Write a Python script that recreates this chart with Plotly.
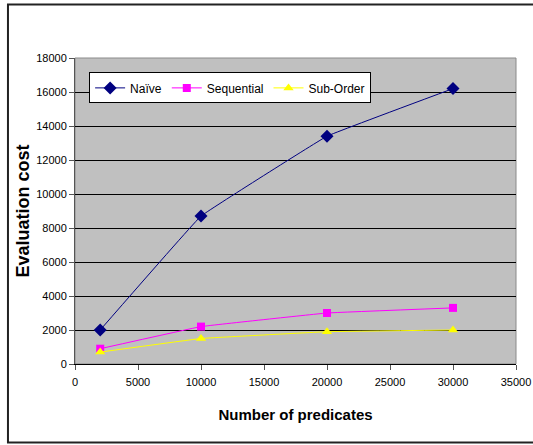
import plotly.graph_objects as go

# Evaluation cost versus number of predicates for three strategies
predicates = [2000, 10000, 20000, 30000]
naive_cost = [2000, 8700, 13400, 16200]
sequential_cost = [900, 2200, 3000, 3300]
suborder_cost = [700, 1500, 1900, 2000]

x_ticks = list(range(0, 35001, 5000))
y_ticks = list(range(0, 18001, 2000))

FONT = "Liberation Sans, Arial, sans-serif"
SMOOTH = 0.15

fig = go.Figure()
fig.add_trace(go.Scatter(
    x=predicates, y=naive_cost, name="Naïve", mode="lines+markers",
    line=dict(color="#000080", width=1, shape="spline", smoothing=SMOOTH),
    marker=dict(symbol="diamond", size=10, color="#000080"),
))
fig.add_trace(go.Scatter(
    x=predicates, y=sequential_cost, name="Sequential", mode="lines+markers",
    line=dict(color="#FF00FF", width=1, shape="spline", smoothing=SMOOTH),
    marker=dict(symbol="square", size=8, color="#FF00FF"),
))
fig.add_trace(go.Scatter(
    x=predicates, y=suborder_cost, name="Sub-Order", mode="lines+markers",
    line=dict(color="#FFFF00", width=1, shape="spline", smoothing=SMOOTH),
    marker=dict(symbol="triangle-up", size=9, color="#FFFF00"),
))

# outer chart frame
fig.add_shape(type="rect", xref="paper", yref="paper",
              x0=-0.152, x1=1.06, y0=-0.2565, y1=1.175,
              line=dict(color="#222222", width=2), layer="above")
# plot area border (top/right)
fig.add_shape(type="rect", xref="paper", yref="paper",
              x0=0, x1=1, y0=0, y1=1,
              line=dict(color="#8a8a8a", width=1), layer="below")

fig.update_layout(
    width=533, height=445,
    margin=dict(l=75, r=17, t=58, b=81, autoexpand=False),
    paper_bgcolor="white",
    plot_bgcolor="#C0C0C0",
    font=dict(family=FONT, size=11, color="black"),
    showlegend=True,
    legend=dict(
        orientation="h", x=0.032, y=0.953, xanchor="left", yanchor="top",
        bgcolor="white", bordercolor="black", borderwidth=1,
        font=dict(family=FONT, size=12, color="black"),
        itemwidth=30, tracegroupgap=0,
    ),
    xaxis=dict(
        range=[0, 35000], tickvals=x_ticks, ticktext=[str(v) for v in x_ticks],
        showgrid=False, zeroline=False, automargin=False,
        showline=True, linecolor="black", linewidth=1,
        ticks="outside", ticklen=5, tickcolor="#555555", ticklabelstandoff=3,
        title=dict(text="<b>Number of predicates</b>",
                   font=dict(family=FONT, size=15, color="black"), standoff=22),
    ),
    yaxis=dict(
        range=[0, 18000], tickvals=y_ticks, ticktext=[str(v) for v in y_ticks],
        showgrid=True, gridcolor="black", gridwidth=1,
        zeroline=False, automargin=False,
        showline=True, linecolor="#555555", linewidth=1,
        ticks="outside", ticklen=5, tickcolor="#555555",
        title=dict(text="<b>Evaluation cost</b>",
                   font=dict(family=FONT, size=18, color="black"), standoff=1),
    ),
)

fig.write_html("out.html")
